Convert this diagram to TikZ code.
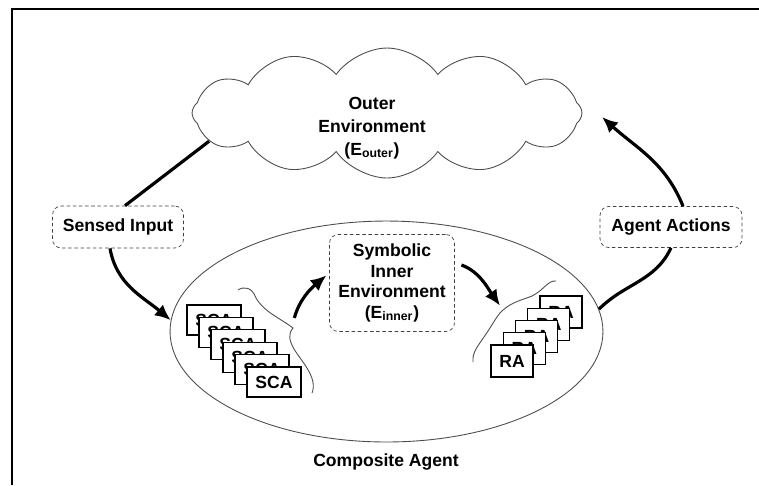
\documentclass[tikz,border=0pt]{standalone}
\usepackage{fontspec}
\setmainfont{Liberation Sans}
\usetikzlibrary{shapes.symbols,shapes.geometric,arrows.meta}

\begin{document}
\begin{tikzpicture}[x=.02cm,y=-.02cm,>={Latex[length=9pt,width=8pt]},
	font=\fontsize{10}{11.6}\selectfont\bfseries,
	lblbox/.style={draw=black!75,dash pattern=on 2pt off 1.5pt,rounded corners=5pt,align=center,inner sep=0pt},
	card/.style={draw,fill=white,line width=.6pt,inner sep=0pt},
	flow/.style={line width=1.8pt},
	thinline/.style={draw=black!70,line width=.5pt}]
	\useasboundingbox (0,0) rectangle (759,485);
	\draw[line width=1.5pt] (12,485) -- (12,9) -- (759,9);
	
	\begin{scope}[thinline]
		\node[cloud,draw,cloud puffs=12,cloud puff arc=110,cloud ignores aspect,minimum width=7.8cm,minimum height=2.6cm] (outer) at (387,113) {};
		\node[ellipse,draw,minimum width=8.66cm,minimum height=4.42cm,inner sep=0pt] (agent) at (386.5,331.5) {};
	\end{scope}
	\node[align=center,font=\fontsize{10}{13}\selectfont\bfseries] (outertxt) at (372,128) {Outer\\Environment\\(E\textsubscript{outer})};
	\node (agenttxt) at (386,462) {Composite Agent};
	
	\node[lblbox,minimum width=2.62cm,minimum height=.84cm] (sensed) at (118,227) {Sensed Input};
	\node[lblbox,minimum width=2.84cm,minimum height=.82cm] (actions) at (671,227) {Agent Actions};
	\node[lblbox,minimum width=2.5cm,minimum height=1.94cm] (inner) at (392,283) {Symbolic\\Inner\\Environment\\(E\textsubscript{inner})};
	
	% stacked agents
	\foreach \i in {0,...,5}
		\node[card,minimum width=1.08cm,minimum height=.6cm] (sca\i) at (214+12*\i,320+12.4*\i) {SCA};
	\foreach \i in {0,...,4}
		\node[card,minimum width=.84cm,minimum height=.64cm] (ra\i) at (561-12.25*\i,312+12.25*\i) {RA};
	
	% braces
	\begin{scope}[thinline]
		\coordinate (scatip) at (293,328);
		\coordinate (ratip) at (503,310);
		\draw (238,290) .. controls (244,286) and (252,287) .. (256,298)
			.. controls (264,312) and (280,318) .. (scatip)
			.. controls (288,334) and (289,340) .. (294,349)
			.. controls (302,362) and (318,378) .. (312,393);
		\draw (473,362) .. controls (472,352) and (478,346) .. (486,334)
			.. controls (494,322) and (498,314) .. (ratip)
			.. controls (512,302) and (522,300) .. (532,296)
			.. controls (544,290) and (548,280) .. (556,281);
	\end{scope}
	
	\coordinate (acttip) at (602,117);
	\begin{scope}[flow]
		\draw ([xshift=.14cm]sensed.north) -- (outer.189);
		\draw[->] ([xshift=-.16cm]sensed.south) to[out=-80,in=140] (agent.177);
		\draw (agent.6) to[out=45,in=-115] (actions.south);
		\draw[->] ([xshift=.24cm]actions.north) to[out=112,in=-42] (acttip);
		\draw[->,shorten <=3pt,shorten >=2pt] ([yshift=.1cm]scatip) to[out=75,in=-140] (inner.171);
		\draw[->,shorten <=4pt,shorten >=3pt] (inner.18) to[out=-20,in=125] (ratip);
	\end{scope}
\end{tikzpicture}
\end{document}
